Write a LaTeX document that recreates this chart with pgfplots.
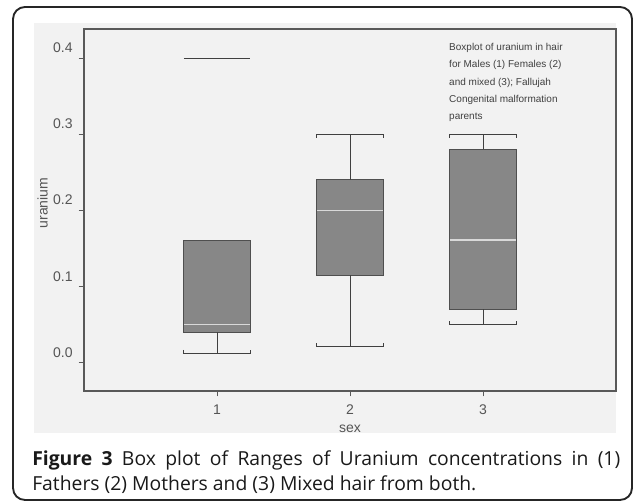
\documentclass[border=0pt]{standalone}
\usepackage{fontspec}
\setmainfont{Liberation Sans}
\newfontfamily\capfont{Open Sans}
\usepackage{pgfplots}
\pgfplotsset{compat=1.18}
\definecolor{panel}{HTML}{F2F2F2}
\definecolor{boxfill}{HTML}{878787}
\definecolor{boxline}{HTML}{4F4F4F}
\definecolor{medcol}{HTML}{D9D9D9}
\definecolor{txt}{HTML}{555555}
\begin{document}
\begin{tikzpicture}
\path[use as bounding box] (0,0) rectangle (474.75pt,377.25pt);
\fill[panel] (25.5pt,52.5pt) rectangle (462pt,360pt);
\draw[line width=1.4pt, black!85, rounded corners=9pt] (9.75pt,2.25pt) rectangle (474pt,372pt);
\begin{axis}[
  at={(63pt,84pt)}, anchor=south west, scale only axis,
  width=399pt, height=271.5pt,
  xmin=0, xmax=4, ymin=-0.037, ymax=0.438,
  axis line style={draw=black!65, line width=0.8pt},
  tick align=outside, xtick pos=left, ytick pos=left,
  major tick length=4pt,
  tick style={draw=black!65, line width=0.6pt},
  xtick={1,2,3}, ytick={0,0.1,0.2,0.3,0.4},
  /pgf/number format/assume math mode=true,
  ticklabel style={font=\fontsize{10.5}{12}\selectfont, text=txt},
  yticklabel style={/pgf/number format/fixed, /pgf/number format/fixed zerofill, /pgf/number format/precision=1, anchor=south east, xshift=-1pt, yshift=0.5pt},
  xticklabel style={yshift=-3pt},
  xlabel={sex}, ylabel={uranium},
  xlabel style={at={(axis description cs:0.5,0)}, anchor=base, yshift=-31.5pt, font=\fontsize{10.5}{12}\selectfont, text=txt},
  ylabel style={at={(axis description cs:0,0.519)}, anchor=center, yshift=31pt, font=\fontsize{10.5}{12}\selectfont, text=txt},
  box/.style={draw=boxline, fill=boxfill, line width=0.8pt},
  med/.style={draw=medcol, line width=1pt},
  whisk/.style={draw=black!75, line width=0.6pt},
]
% group 1 (Fathers)
\addplot[box] coordinates {(0.75,0.040) (1.25,0.040) (1.25,0.160) (0.75,0.160)} -- cycle;
\addplot[med] coordinates {(0.755,0.050) (1.245,0.050)};
\addplot[whisk] coordinates {(1,0.040) (1,0.0123)};
\addplot[whisk] coordinates {(0.75,0.0168) (0.75,0.0123) (1.25,0.0123) (1.25,0.0168)};
\addplot[whisk] coordinates {(0.75,0.400) (1.25,0.400)};
% group 2 (Mothers)
\addplot[box] coordinates {(1.75,0.115) (2.25,0.115) (2.25,0.240) (1.75,0.240)} -- cycle;
\addplot[med] coordinates {(1.755,0.200) (2.245,0.200)};
\addplot[whisk] coordinates {(2,0.115) (2,0.021)};
\addplot[whisk] coordinates {(1.75,0.0255) (1.75,0.021) (2.25,0.021) (2.25,0.0255)};
\addplot[whisk] coordinates {(2,0.240) (2,0.300)};
\addplot[whisk] coordinates {(1.75,0.2955) (1.75,0.300) (2.25,0.300) (2.25,0.2955)};
% group 3 (Mixed)
\addplot[box] coordinates {(2.75,0.070) (3.25,0.070) (3.25,0.280) (2.75,0.280)} -- cycle;
\addplot[med] coordinates {(2.755,0.161) (3.245,0.161)};
\addplot[whisk] coordinates {(3,0.070) (3,0.050)};
\addplot[whisk] coordinates {(2.75,0.0545) (2.75,0.050) (3.25,0.050) (3.25,0.0545)};
\addplot[whisk] coordinates {(3,0.280) (3,0.300)};
\addplot[whisk] coordinates {(2.75,0.2955) (2.75,0.300) (3.25,0.300) (3.25,0.2955)};
\node[anchor=north west, inner sep=0, align=left, font=\fontsize{7.5}{13}\selectfont, text=black!75] at (axis cs:2.744,0.4196) {Boxplot of uranium in hair\\for Males (1) Females (2)\\and mixed (3); Fallujah\\Congenital malformation\\parents};
\end{axis}
\node[anchor=north west, inner sep=0, text width=441pt, align=justify, font=\capfont\fontsize{14.5}{18.75}\selectfont, text=black!90] at (24pt,39.5pt) {\textbf{Figure 3} Box plot of Ranges of Uranium concentrations in (1) \mbox{Fathers} (2) Mothers and (3) Mixed hair from both.};
\end{tikzpicture}
\end{document}
